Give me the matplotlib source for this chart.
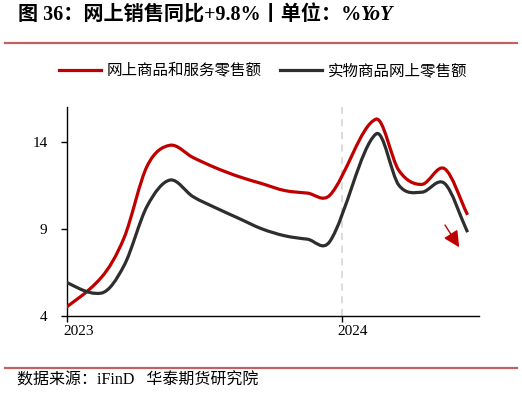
import numpy as np
import matplotlib
matplotlib.use("Agg")
import matplotlib.pyplot as plt
from matplotlib.path import Path
from matplotlib.patches import PathPatch
from matplotlib.lines import Line2D
import matplotlib.transforms as mtransforms

# cumulative YoY, %
periods = ["2022-12", "2023-02", "2023-03", "2023-04", "2023-05", "2023-06",
           "2023-07", "2023-08", "2023-09", "2023-10", "2023-11", "2023-12",
           "2024-02", "2024-03", "2024-04", "2024-05", "2024-06"]
online_total = [4.0, 6.2, 8.5, 12.6, 13.8, 13.1, 12.5, 12.0, 11.6, 11.2, 11.05, 10.95,
                15.3, 12.35, 11.55, 12.45, 9.8]
online_goods = [6.2, 5.3, 6.9, 10.3, 11.8, 10.85, 10.2, 9.6, 9.0, 8.6, 8.4, 8.3,
                14.45, 11.5, 11.1, 11.6, 8.8]
series_names = ["网上商品和服务零售额", "实物商品网上零售额"]
year_ticks = [2023, 2024]
y_ticks = [4, 9, 14]

RED = "#C00000"
DARK = "#2E2E2E"
SEP = "#C0625F"
CJK = "Noto Sans CJK SC"
SERIF = "Liberation Serif"


def month_pos(p):
    # months from 2023-01-01, points sit mid-month
    y, m = p.split("-")
    return (int(y) - 2023) * 12 + int(m) - 1 + 0.5


def smooth_path(x, y):
    # smoothed line through the points, hermite -> cubic bezier
    x = np.asarray(x, float)
    y = np.asarray(y, float)
    n = len(x)
    slope = np.empty(n)
    slope[0] = (y[1] - y[0]) / (x[1] - x[0])
    slope[-1] = (y[-1] - y[-2]) / (x[-1] - x[-2])
    slope[1:-1] = (y[2:] - y[:-2]) / (x[2:] - x[:-2])
    verts = [(x[0], y[0])]
    codes = [Path.MOVETO]
    for i in range(n - 1):
        h = (x[i + 1] - x[i]) / 3.0
        verts += [(x[i] + h, y[i] + h * slope[i]),
                  (x[i + 1] - h, y[i + 1] - h * slope[i + 1]),
                  (x[i + 1], y[i + 1])]
        codes += [Path.CURVE4] * 3
    return Path(verts, codes)


xs = [month_pos(p) for p in periods]

fig = plt.figure(figsize=(5.22, 3.93), dpi=100)
ax = fig.add_axes([67 / 522, 1 - 315.7 / 393, (479 - 67) / 522, (315.7 - 107) / 393])

ax.axvline(12, color="#D9D9D9", lw=1.3, ls=(0, (4, 3)), zorder=1)

for vals, col in [(online_total, RED), (online_goods, DARK)]:
    patch = PathPatch(smooth_path(xs, vals), facecolor="none", edgecolor=col,
                      lw=2.3, capstyle="butt", joinstyle="round", zorder=3)
    ax.add_patch(patch)

ax.set_xlim(0, 18)
ax.set_ylim(4, 16)

ax.annotate("", xy=(17.2, 7.8), xytext=(16.45, 9.35),
            arrowprops=dict(arrowstyle="-|>,head_length=0.7,head_width=0.35",
                            color=RED, lw=1.0, mutation_scale=14), zorder=4)

for s in ["top", "right"]:
    ax.spines[s].set_visible(False)
for s in ["left", "bottom"]:
    ax.spines[s].set_color("black")
    ax.spines[s].set_linewidth(1.0)

ax.set_yticks(y_ticks)
ax.set_yticklabels([str(v) for v in y_ticks], fontfamily=SERIF, fontsize=11)
ax.set_xticks([(yr - 2023) * 12 for yr in year_ticks])
ax.set_xticklabels([str(yr) for yr in year_ticks], fontfamily=SERIF, fontsize=11, ha="left")
ax.tick_params(axis="both", direction="out", length=4, width=1.0, colors="black")
ax.tick_params(axis="y", pad=10)
ax.tick_params(axis="x", pad=3)
off = mtransforms.ScaledTranslation(-4 / 100, 0, fig.dpi_scale_trans)
for lab in ax.get_xticklabels():
    lab.set_transform(lab.get_transform() + off)

# header
t1 = fig.text(18 / 522, 1 - 15 / 393, "图 36：网上销售同比+9.8%丨单位：%",
              fontfamily=[SERIF, CJK], fontweight="bold", fontsize=14.5,
              va="center", ha="left")
fig.canvas.draw()
bb = t1.get_window_extent()
fig.text(bb.x1 / 522, 1 - 15 / 393, "YoY", fontfamily=SERIF, fontweight="bold",
         fontstyle="italic", fontsize=14.5, va="center", ha="left")

fig.add_artist(Line2D([5 / 522, 517 / 522], [1 - 43 / 393] * 2, color=SEP, lw=1.6))
fig.add_artist(Line2D([5 / 522, 517 / 522], [1 - 368 / 393] * 2, color=SEP, lw=1.6))

handles = [Line2D([], [], color=RED, lw=2.3), Line2D([], [], color=DARK, lw=2.3)]
fig.legend(handles, series_names, loc="center", bbox_to_anchor=(263 / 522, 1 - 71 / 393),
           ncol=2, frameon=False, handlelength=2.7, handletextpad=0.35,
           columnspacing=1.2, prop={"family": CJK, "size": 11.2})

fig.text(17 / 522, 1 - 381 / 393, "数据来源：iFinD   华泰期货研究院",
         fontfamily=[SERIF, CJK], fontsize=11.5, va="center", ha="left")

fig.savefig("out.png", dpi=100)
